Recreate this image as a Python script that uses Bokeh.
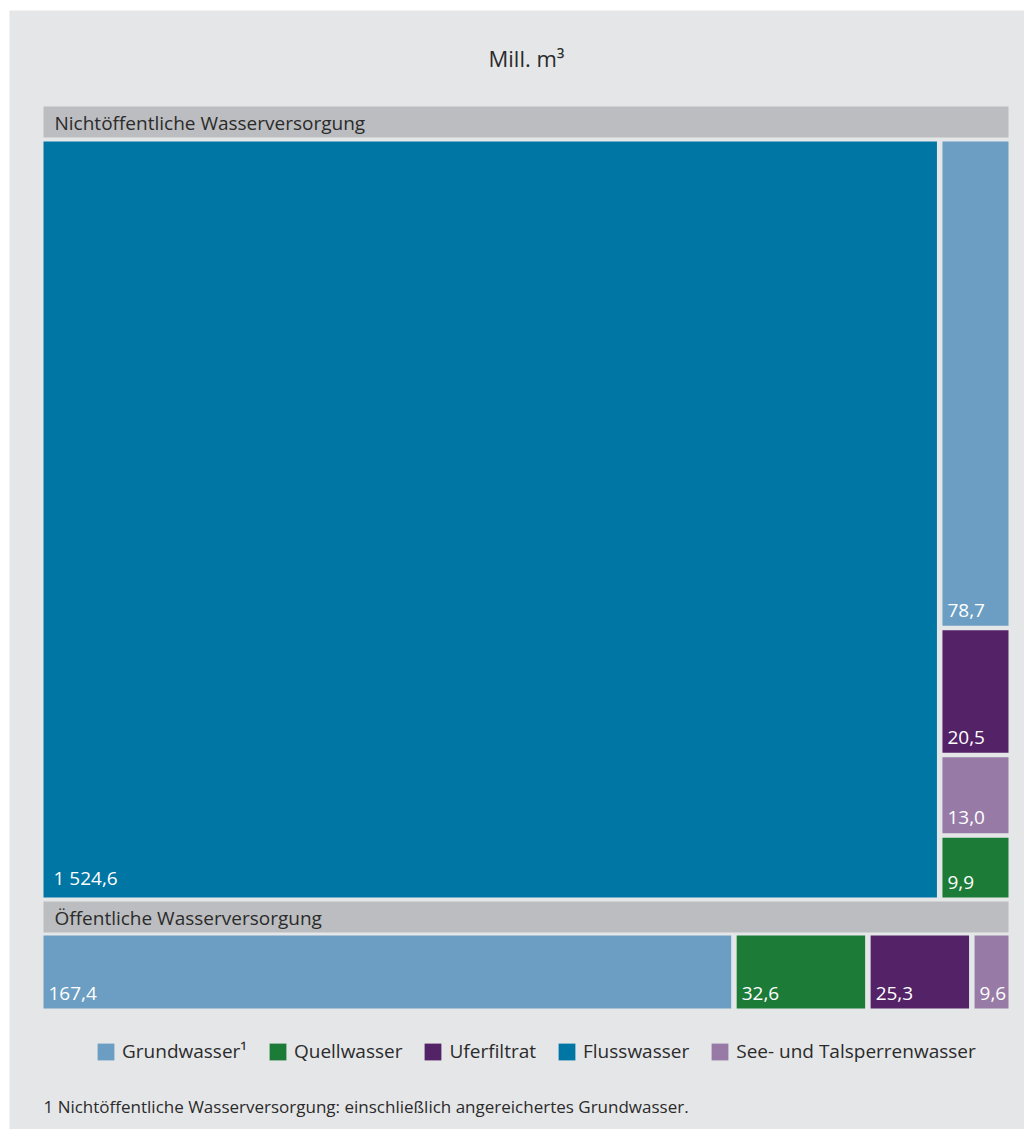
from bokeh.plotting import figure
from bokeh.models import Range1d, ColumnDataSource, Legend, LegendItem
from bokeh.core.properties import value
from bokeh.embed import file_html
from bokeh.resources import INLINE

# ---------------- data ----------------
title_text = "Mill. m³"
groups = ["Nichtöffentliche Wasserversorgung", "Öffentliche Wasserversorgung"]
categories = ["Grundwasser¹", "Quellwasser", "Uferfiltrat", "Flusswasser", "See- und Talsperrenwasser"]
colors = ["#6b9ec2", "#1b7b37", "#542266", "#0076a5", "#977aa6"]

nonpublic_cats = ["Flusswasser", "Grundwasser¹", "Uferfiltrat", "See- und Talsperrenwasser", "Quellwasser"]
nonpublic_vals = [1524.6, 78.7, 20.5, 13.0, 9.9]
public_cats = ["Grundwasser¹", "Quellwasser", "Uferfiltrat", "See- und Talsperrenwasser"]
public_vals = [167.4, 32.6, 25.3, 9.6]
footnote = "1 Nichtöffentliche Wasserversorgung: einschließlich angereichertes Grundwasser."

color_of = dict(zip(categories, colors))
FONT = "Open Sans"
BG = "#e5e6e8"
HEADER = "#bcbdc0"
TXT = "#2b2b2b"


def fmt(v):
    return f"{v:,.1f}".replace(",", " ").replace(".", ",")


# ---------------- treemap layout ----------------
rects = []  # (cat, val, x0, y0, x1, y1)

# non-public: largest item spans the full height, rest stacked in a column
bx0, by0, bx1, by1 = 43, 141, 1008, 897
tot = sum(nonpublic_vals)
xb = bx0 + (bx1 - bx0) * nonpublic_vals[0] / tot
rects.append((nonpublic_cats[0], nonpublic_vals[0], bx0, by0, xb, by1))
rest = nonpublic_vals[1:]
rtot = sum(rest)
cx0 = xb + 5.5
cum = by0
n = len(rest)
for i, (c, v) in enumerate(zip(nonpublic_cats[1:], rest)):
    b = cum + (by1 - by0) * v / rtot
    top = by0 if i == 0 else cum + 1.5
    bot = by1 if i == n - 1 else b - 3
    rects.append((c, v, cx0, top, bx1, bot))
    cum = b

# public: horizontal slices
px0, py0, px1, py1 = 43, 935, 1008, 1008
ptot = sum(public_vals)
cum = px0
for i, (c, v) in enumerate(zip(public_cats, public_vals)):
    b = cum + (px1 - px0) * v / ptot
    left = px0 if i == 0 else cum + 5.5
    rects.append((c, v, left, py0, b, py1))
    cum = b

# ---------------- figure ----------------
W, H = 1024, 1129
p = figure(width=W, height=H, x_range=Range1d(0, W), y_range=Range1d(H, 0),
           output_backend="svg", toolbar_location=None, min_border=0)
p.axis.visible = False
p.grid.visible = False
p.outline_line_color = None
p.border_fill_color = "white"
p.background_fill_color = "white"

# panel background
p.quad(left=[9], right=[W], top=[10], bottom=[H], fill_color=BG, line_color=None)

# title
p.text(x=[526], y=[57], text=[title_text], text_font=value(FONT), text_font_size="22px",
       text_color=TXT, text_align="center", text_baseline="middle")

# group headers
header_boxes = [(43, 106, 1008, 137), (43, 901, 1008, 932)]
p.quad(left=[b[0] for b in header_boxes], right=[b[2] for b in header_boxes],
       top=[b[1] for b in header_boxes], bottom=[b[3] for b in header_boxes],
       fill_color=HEADER, line_color=None)
p.text(x=[b[0] + 11 for b in header_boxes], y=[(b[1] + b[3]) / 2 + 1 for b in header_boxes],
       text=groups, text_font=value(FONT), text_font_size="19px", text_color=TXT,
       text_align="left", text_baseline="middle")

# treemap cells, one renderer per category (for the legend)
renderers = {}
for c in categories:
    rs = [r for r in rects if r[0] == c]
    src = ColumnDataSource(dict(left=[r[2] for r in rs], right=[r[4] for r in rs],
                                top=[r[3] for r in rs], bottom=[r[5] for r in rs]))
    renderers[c] = p.quad(left="left", right="right", top="top", bottom="bottom", source=src,
                          fill_color=color_of[c], line_color=None)

# value labels
lx, ly, lt = [], [], []
for c, v, x0, y0, x1, y1 in rects:
    big = (x1 - x0) > 400 and (y1 - y0) > 400
    lx.append(x0 + (10 if big else 5))
    ly.append(y1 - (20 if big else 15.5))
    lt.append(fmt(v))
p.text(x=lx, y=ly, text=lt, text_font=value(FONT), text_font_size="19px", text_color="white",
       text_align="left", text_baseline="middle")

# footnote
p.text(x=[43], y=[1106], text=[footnote], text_font=value(FONT), text_font_size="17px",
       text_color=TXT, text_align="left", text_baseline="middle")

# legend (quad legend glyphs are drawn at 80% of the glyph box)
legend = Legend(items=[LegendItem(label=c, renderers=[renderers[c]]) for c in categories],
                orientation="horizontal", location=(95, H - 1064),
                padding=0, margin=0, spacing=20, label_standoff=6,
                glyph_width=21, glyph_height=21, label_height=21,
                label_text_font=FONT, label_text_font_size="19px", label_text_color=TXT,
                background_fill_alpha=0, border_line_alpha=0)
p.add_layout(legend)

open("out.html", "w").write(file_html(p, INLINE))
